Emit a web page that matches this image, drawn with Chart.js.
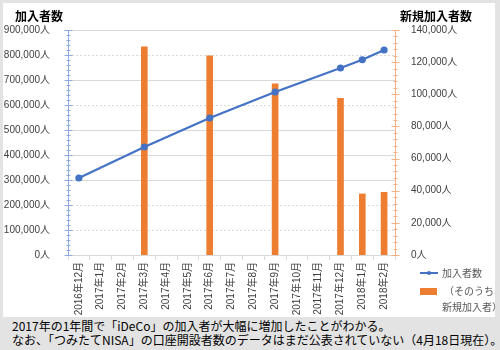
<!DOCTYPE html>
<html>
<head>
<meta charset="utf-8">
<script src="https://cdn.jsdelivr.net/npm/chart.js@4.4.1/dist/chart.umd.min.js"></script>
<style>
  body { margin: 0; width: 500px; height: 350px; background: #e3e3e3; position: relative; overflow: hidden;
         font-family: "Liberation Sans", "Noto Sans CJK JP", sans-serif; }
  #panel { position: absolute; left: 3px; top: 3px; width: 492px; height: 314px; background: #fff; overflow: hidden; }
  #chartBox { position: absolute; left: 0; top: 0; width: 492px; height: 314px; }
  .title { position: absolute; top: 4px; font-size: 12px; font-weight: bold; color: #000;
           font-family: "Noto Sans CJK JP", sans-serif; }
  #legend { position: absolute; left: 417px; top: 262px; font-size: 10px; color: #595959;
            font-family: "Noto Sans CJK JP", sans-serif; line-height: 16px; }
  .lg-row { position: relative; height: 16px; white-space: nowrap; }
  .lg-line { position: absolute; left: 0; top: 7px; width: 18px; height: 2px; background: #4472c4; }
  .lg-dot { position: absolute; left: 7px; top: 6px; width: 4px; height: 4px; border-radius: 50%; background: #4472c4; }
  .lg-rect { position: absolute; left: 0; top: 5px; width: 17px; height: 7px; background: #ed7d31; }
  #note { position: absolute; left: 12px; top: 319px; font-size: 12px; line-height: 14px; color: #000;
          font-family: "Noto Sans CJK JP", sans-serif; white-space: nowrap; }
</style>
</head>
<body>
<div id="panel">
  <div id="chartBox"><canvas id="myChart"></canvas></div>
  <div class="title" style="left:12px">加入者数</div>
  <div class="title" style="left:397px">新規加入者数</div>
  <div id="legend">
    <div class="lg-row"><span class="lg-line"></span><span class="lg-dot"></span><span style="margin-left:22px">加入者数</span></div>
    <div class="lg-row" style="margin-top:2px"><span class="lg-rect"></span><span style="margin-left:24px">（そのうち、</span></div>
    <div class="lg-row"><span style="margin-left:22px">新規加入者）</span></div>
  </div>
</div>
<div id="note">2017年の1年間で「iDeCo」の加入者が大幅に増加したことがわかる。<br>なお、「つみたてNISA」の口座開設者数のデータはまだ公表されていない（4月18日現在）。</div>

<script>
// data
const months = ['2016年12月', '2017年1月', '2017年2月', '2017年3月', '2017年4月', '2017年5月', '2017年6月',
  '2017年7月', '2017年8月', '2017年9月', '2017年10月', '2017年11月', '2017年12月', '2018年1月', '2018年2月'];
const members = [308000, null, null, 432000, null, null, 548000, null, null, 652000, null, null, 748000, 781000, 820000];
const newMembers = [null, null, null, 129500, null, null, 124000, null, null, 106500, null, null, 97500, 38000, 39000];
const leftTicks = [0, 100000, 200000, 300000, 400000, 500000, 600000, 700000, 800000, 900000];
const rightTicks = [0, 20000, 40000, 60000, 80000, 100000, 120000, 140000];
const dottedGrid = [100000, 200000, 600000, 800000];

const tickFont = { family: '"Liberation Sans", "Noto Sans CJK JP", sans-serif', size: 10 };
const fmt = v => v.toLocaleString('en-US') + '人';

// axis lines with minor ticks + horizontal grid, drawn like the excel chart
const axisDecor = {
  id: 'axisDecor',
  beforeDatasetsDraw(chart) {
    const { ctx, chartArea } = chart;
    const y = chart.scales.y;
    ctx.save();
    ctx.strokeStyle = '#d9d9d9';
    ctx.lineWidth = 1;
    leftTicks.forEach(v => {
      if (v === 0) return;
      const py = Math.round(y.getPixelForValue(v)) + 0.5;
      ctx.setLineDash(dottedGrid.includes(v) ? [2, 2] : []);
      ctx.beginPath();
      ctx.moveTo(chartArea.left, py);
      ctx.lineTo(chartArea.right, py);
      ctx.stroke();
    });
    ctx.restore();
  },
  afterDraw(chart) {
    const { ctx, chartArea } = chart;
    const y = chart.scales.y, y1 = chart.scales.y1;
    ctx.save();
    // left axis
    let ax = Math.round(chartArea.left) + 0.5;
    ctx.strokeStyle = '#8faadc';
    ctx.lineWidth = 1;
    ctx.beginPath();
    ctx.moveTo(ax, chartArea.top); ctx.lineTo(ax, chartArea.bottom);
    for (let v = 0; v <= 900000; v += 20000) {
      const py = Math.round(y.getPixelForValue(v)) + 0.5;
      const len = v % 100000 === 0 ? 4 : 2;
      ctx.moveTo(ax - len, py); ctx.lineTo(ax + len, py);
    }
    ctx.stroke();
    // right axis
    ax = Math.round(chartArea.right) + 0.5;
    ctx.strokeStyle = '#f4b183';
    ctx.beginPath();
    ctx.moveTo(ax, chartArea.top); ctx.lineTo(ax, chartArea.bottom);
    for (let v = 0; v <= 140000; v += 4000) {
      const py = Math.round(y1.getPixelForValue(v)) + 0.5;
      const len = v % 20000 === 0 ? 4 : 2;
      ctx.moveTo(ax - len, py); ctx.lineTo(ax + len, py);
    }
    ctx.stroke();
    ctx.restore();
  }
};

const ctx = document.getElementById('myChart');

const myChart = new Chart(ctx, {
  data: {
    labels: months,
    datasets: [{
      type: 'line',
      label: '加入者数',
      data: members,
      yAxisID: 'y',
      borderColor: '#4472c4',
      backgroundColor: '#4472c4',
      borderWidth: 2.2,
      pointRadius: 2.5,
      pointHoverRadius: 2.5,
      spanGaps: true,
      order: 0
    }, {
      type: 'bar',
      label: '（そのうち、新規加入者）',
      data: newMembers,
      yAxisID: 'y1',
      backgroundColor: '#ed7d31',
      barThickness: 6,
      order: 1
    }]
  },
  options: {
    responsive: true,
    maintainAspectRatio: false,
    animation: false,
    layout: { padding: { top: 27, left: 0, right: 0, bottom: 0 } },
    plugins: { legend: { display: false }, tooltip: { enabled: false } },
    scales: {
      x: {
        offset: true,
        grid: { display: true, drawOnChartArea: false, offset: true, color: '#d9d9d9', tickLength: 5 },
        border: { color: '#d9d9d9' },
        ticks: { color: '#404040', font: tickFont, minRotation: 90, maxRotation: 90, autoSkip: false, padding: 2 },
        afterFit: s => { s.height = 62; }
      },
      y: {
        position: 'left',
        min: 0, max: 900000,
        grid: { display: false },
        border: { display: false },
        afterBuildTicks: s => { s.ticks = leftTicks.map(v => ({ value: v })); },
        ticks: { color: '#404040', font: tickFont, padding: 10, callback: v => fmt(v) },
        afterFit: s => { s.width = 65; }
      },
      y1: {
        position: 'right',
        min: 0, max: 140000,
        grid: { display: false },
        border: { display: false },
        afterBuildTicks: s => { s.ticks = rightTicks.map(v => ({ value: v })); },
        ticks: { color: '#404040', font: tickFont, padding: 8, callback: v => fmt(v) },
        afterFit: s => { s.width = 100; }
      }
    }
  },
  plugins: [axisDecor]
});
</script>
</body>
</html>
